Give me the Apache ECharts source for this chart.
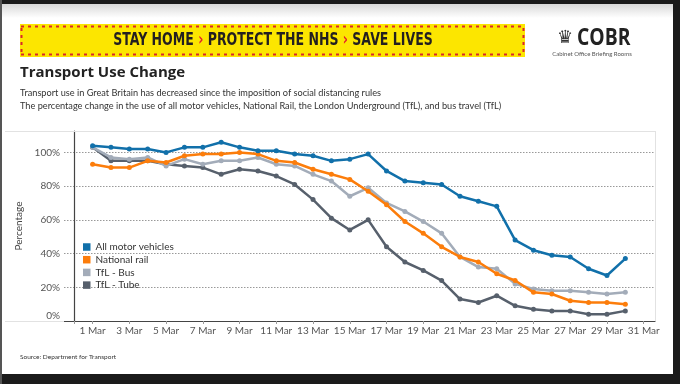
<!DOCTYPE html>
<html><head><meta charset="utf-8">
<script src="https://cdn.jsdelivr.net/npm/echarts@6/dist/echarts.min.js"></script>
<style>html,body{margin:0;padding:0;background:#fff}#c{width:680px;height:384px}</style>
</head><body><div id="c"></div>
<script>
// Days of March 2020 (1..30)
const days = [1,2,3,4,5,6,7,8,9,10,11,12,13,14,15,16,17,18,19,20,21,22,23,24,25,26,27,28,29,30];
const motorVehicles = [104,103,102,102,100,103,103,106,103,101,101,99,98,95,96,99,89,83,82,81,74,71,68,48,42,39,38,31,27,37];
const nationalRail  = [93,91,91,95,94,98,99,99,100,99,95,94,90,87,84,77,69,59,52,44,38,35,28,24,17,16,12,11,11,10];
const tflBus        = [103,97,96,97,92,96,93,95,95,97,93,92,87,83,74,79,70,65,59,52,38,32,31,22,19,18,18,17,16,17];
const tflTube       = [103,95,95,95,93,92,91,87,90,89,86,81,72,61,54,60,44,35,30,24,13,11,15,9,7,6,6,4,4,6];
const xTickDays = [1,3,5,7,9,11,13,15,17,19,21,23,25,27,29,31];
const yTicks = [0,20,40,60,80,100];
const seriesNames = ['All motor vehicles','National rail','TfL - Bus','TfL - Tube'];
const colors = ['#1170AA','#FC7D0B','#A3ACB9','#57606C'];

const pairs = vals => days.map((d,i)=>[d, vals[i]]);
const allVals = [motorVehicles, nationalRail, tflBus, tflTube];

const chart = echarts.init(document.getElementById('c'), null, {renderer:'canvas'});
const font = 'Lato, "Open Sans", sans-serif';
const bannerFont = '"Liberation Sans Narrow","DejaVu Sans Condensed",Roboto,sans-serif';

const series = [3,2,1,0].map(i => ({
  name: seriesNames[i], type:'line', data: pairs(allVals[i]),
  symbol:'circle', symbolSize:5, showSymbol:true,
  lineStyle:{width:2.5, color:colors[i]}, itemStyle:{color:colors[i]},
  z: 3 + (3-i)
}));

chart.setOption({
  animation:false,
  backgroundColor:'#fff',
  grid:{left:64, right:25, top:131, bottom:63, containLabel:false},
  legend:{
    data: seriesNames.map((n,i)=>({name:n, itemStyle:{color:colors[i]}})),
    orient:'vertical', left:78, top:236, icon:'rect', itemWidth:7.5, itemHeight:7.5, itemGap:0.7,
    textStyle:{fontFamily:font, fontSize:10, color:'#333', lineHeight:12}
  },
  xAxis:{
    type:'value', min:-0.557, max:31.615,
    axisLine:{show:true, lineStyle:{color:'#444', width:1.2}},
    axisTick:{show:true, customValues:[0].concat(xTickDays), length:3, lineStyle:{color:'#999'}},
    axisLabel:{customValues:xTickDays, formatter:v=>v+' Mar', fontFamily:font, fontSize:10, color:'#555', margin:5},
    splitLine:{show:false}
  },
  yAxis:{
    type:'value', min:0, max:112.7, interval:20,
    name:'Percentage', nameLocation:'middle', nameGap:31, nameRotate:90,
    nameTextStyle:{fontFamily:font, fontSize:10, color:'#444'},
    axisLine:{show:true, lineStyle:{color:'#444', width:1.2}},
    axisTick:{show:false},
    axisLabel:{customValues:yTicks, formatter:v=> v===0 ? '{z|0%}' : v+'%', fontFamily:font, fontSize:10, color:'#555', margin:4,
      rich:{z:{fontFamily:font, fontSize:10, color:'#555', padding:[0,0,10,0]}}},
    splitLine:{show:true, lineStyle:{color:'#999', type:[1.5,1.5], width:1}}
  },
  series: series,
  graphic:[
    // frame
    {type:'rect', shape:{x:0,y:0,width:680,height:4}, style:{fill:'#1b1b1b'}, z:100},
    {type:'rect', shape:{x:0,y:4,width:673,height:14}, style:{fill:new echarts.graphic.LinearGradient(0,0,0,1,[{offset:0,color:'#d9d9d9'},{offset:1,color:'#ffffff'}])}, z:1},
    {type:'rect', shape:{x:673,y:0,width:7,height:384}, style:{fill:'#1b1b1b'}, z:100},
    {type:'rect', shape:{x:0,y:374,width:680,height:10}, style:{fill:'#1b1b1b'}, z:100},
    {type:'rect', shape:{x:0,y:0,width:2,height:384}, style:{fill:'#555'}, z:100},
    // banner
    {type:'rect', shape:{x:20,y:24,width:505,height:33}, style:{fill:'#FCE600'}, z:10},
    {type:'line', shape:{x1:21,y1:26.5,x2:524,y2:26.5}, style:{stroke:'#D9262B', lineWidth:2, lineDash:[3,4]}, z:11},
    {type:'line', shape:{x1:21,y1:54.5,x2:524,y2:54.5}, style:{stroke:'#D9262B', lineWidth:2, lineDash:[3,4]}, z:11},
    {type:'line', shape:{x1:21.5,y1:28,x2:21.5,y2:53}, style:{stroke:'#D9262B', lineWidth:2, lineDash:[3,4]}, z:11},
    {type:'line', shape:{x1:523.5,y1:28,x2:523.5,y2:53}, style:{stroke:'#D9262B', lineWidth:2, lineDash:[3,4]}, z:11},
    {type:'text', x:273, y:41, scaleX:0.82, z:12, style:{
      text:'{b|STAY HOME }{r|›}{b| PROTECT THE NHS }{r|›}{b| SAVE LIVES}',
      align:'center', verticalAlign:'middle',
      rich:{
        b:{fontFamily:bannerFont, fontWeight:'bold', fontSize:17, fill:'#231f20'},
        r:{fontFamily:bannerFont, fontWeight:'bold', fontSize:17, fill:'#E4202A'}
      }}},
    // COBR logo
    {type:'text', x:565, y:38, z:12, style:{text:'♛', fontFamily:'DejaVu Sans', fontSize:18, fill:'#333', align:'center', verticalAlign:'middle'}},
    {type:'text', x:577, y:38, scaleX:0.84, z:12, style:{text:'COBR', fontFamily:'"Open Sans",sans-serif', fontWeight:'bold', fontSize:23, fill:'#222', verticalAlign:'middle'}},
    {type:'text', x:592, y:54, z:12, style:{text:'Cabinet Office Briefing Rooms', fontFamily:font, fontSize:6, fill:'#555', align:'center', verticalAlign:'middle'}},
    // titles
    {type:'text', x:20, y:73, z:12, style:{text:'Transport Use Change', fontFamily:'"Open Sans",sans-serif', fontWeight:'bold', fontSize:15, fill:'#222', verticalAlign:'middle'}},
    {type:'text', x:20, y:93, z:12, style:{text:'Transport use in Great Britain has decreased since the imposition of social distancing rules', fontFamily:font, fontSize:9.2, fill:'#333', verticalAlign:'middle'}},
    {type:'text', x:20, y:106, z:12, style:{text:'The percentage change in the use of all motor vehicles, National Rail, the London Underground (TfL), and bus travel (TfL)', fontFamily:font, fontSize:9.2, fill:'#333', verticalAlign:'middle'}},
    {type:'text', x:20, y:357, z:12, style:{text:'Source: Department for Transport', fontFamily:font, fontSize:6.5, fill:'#333', verticalAlign:'middle'}},
    // pane borders
    {type:'line', shape:{x1:5,y1:131.5,x2:655,y2:131.5}, style:{stroke:'#e2e2e2', lineWidth:1}, z:2},
    {type:'line', shape:{x1:5,y1:321.5,x2:64,y2:321.5}, style:{stroke:'#e2e2e2', lineWidth:1}, z:2},
    {type:'line', shape:{x1:655.5,y1:131,x2:655.5,y2:321}, style:{stroke:'#e2e2e2', lineWidth:1}, z:2}
  ]
});
</script></body></html>
